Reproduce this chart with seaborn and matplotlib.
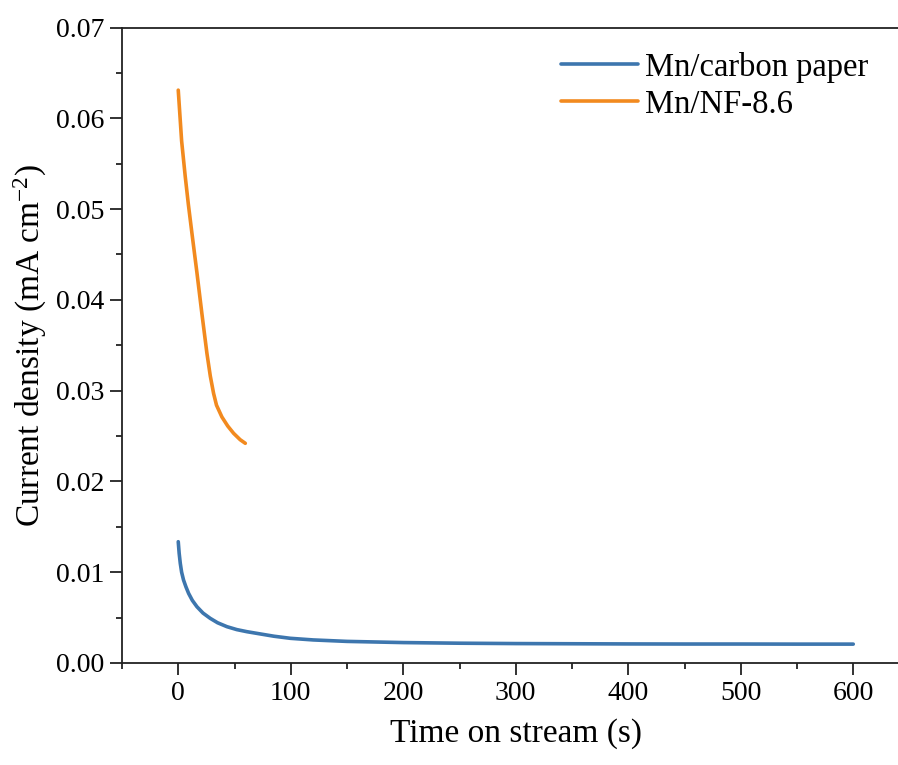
import numpy as np
import pandas as pd
import seaborn as sns
import matplotlib.pyplot as plt
from matplotlib.ticker import MultipleLocator

# Data
cp_time = [0, 0.8, 1.8, 3, 4.7, 6.8, 9.2, 12.5, 16.6, 22, 28.4, 35, 43.3, 52, 61, 72, 85, 99.6, 120, 150, 200, 250, 300, 350, 400, 450, 500, 550, 600]
cp_current = [0.01336, 0.0121, 0.01098, 0.0100, 0.00914, 0.0084, 0.00767, 0.0069, 0.0062, 0.0055, 0.00492, 0.00443, 0.0040, 0.00368, 0.00345, 0.00322, 0.00295, 0.00272, 0.00254, 0.00238, 0.00225, 0.00218, 0.00214, 0.00212, 0.0021, 0.00209, 0.00209, 0.00208, 0.00208]

nf_time = [0, 3, 6.2, 9, 12.2, 16.6, 21, 25.5, 28.5, 31.4, 34, 38.8, 44, 49.2, 55, 59.6]
nf_current = [0.0631, 0.0575, 0.0536, 0.0505, 0.0473, 0.0430, 0.0385, 0.0341, 0.0316, 0.0297, 0.0284, 0.0271, 0.0261, 0.0253, 0.0246, 0.0242]

series_names = ["Mn/carbon paper", "Mn/NF-8.6"]
colors = ["#3d76ae", "#f28a1f"]

df = pd.concat([
    pd.DataFrame({"time": cp_time, "current": cp_current, "sample": series_names[0]}),
    pd.DataFrame({"time": nf_time, "current": nf_current, "sample": series_names[1]}),
])

sns.set_style("ticks")
plt.rcParams['font.family'] = ['Liberation Serif', 'DejaVu Serif']
plt.rcParams['mathtext.fontset'] = 'custom'
plt.rcParams['mathtext.rm'] = 'Liberation Serif'
plt.rcParams['mathtext.it'] = 'Liberation Serif:italic'
plt.rcParams['mathtext.default'] = 'regular'
plt.rcParams['text.color'] = 'black'

fig = plt.figure(figsize=(8.98, 7.65), dpi=100)
# axes extends slightly past the right edge (x axis runs to 650, cropped as in the reference)
ax = fig.add_axes([122/898, 1 - 663/765, (909.5 - 122)/898, (663 - 27.5)/765])

sns.lineplot(data=df, x="time", y="current", hue="sample", hue_order=series_names,
             palette=colors, linewidth=2.6, ax=ax, sort=False, estimator=None)

ax.set_xlim(-50, 650)
ax.set_ylim(0, 0.07)
ax.xaxis.set_major_locator(MultipleLocator(100))
ax.xaxis.set_minor_locator(MultipleLocator(50))
ax.yaxis.set_major_locator(MultipleLocator(0.01))
ax.yaxis.set_minor_locator(MultipleLocator(0.005))
ax.set_xticks([0, 100, 200, 300, 400, 500, 600])
ax.yaxis.set_major_formatter(plt.FuncFormatter(lambda v, p: f"{v:.2f}"))

for s in ["left", "bottom", "top"]:
    ax.spines[s].set_linewidth(1.3)
    ax.spines[s].set_color("#222222")
ax.spines["right"].set_visible(False)

ax.tick_params(axis="both", which="major", direction="out", length=8.5, width=1.3,
               labelsize=20, colors="#222222", labelcolor="black", pad=4.5)
ax.tick_params(axis="both", which="minor", direction="out", length=4.2, width=1.3, colors="#222222")

ax.set_xlabel("Time on stream (s)", fontsize=24, labelpad=9, color="black")
ax.set_ylabel("Current density (mA cm$^{-2}$)", fontsize=24, labelpad=5, color="black")

leg = ax.legend(loc="upper right", bbox_to_anchor=((868 - 122) / (909.5 - 122), 0.962), frameon=False, fontsize=23.5,
                handlelength=2.36, handletextpad=0.2, labelspacing=0.2,
                borderpad=0, borderaxespad=0)
for line in leg.get_lines():
    line.set_linewidth(2.6)

fig.savefig("out.png", dpi=100)
